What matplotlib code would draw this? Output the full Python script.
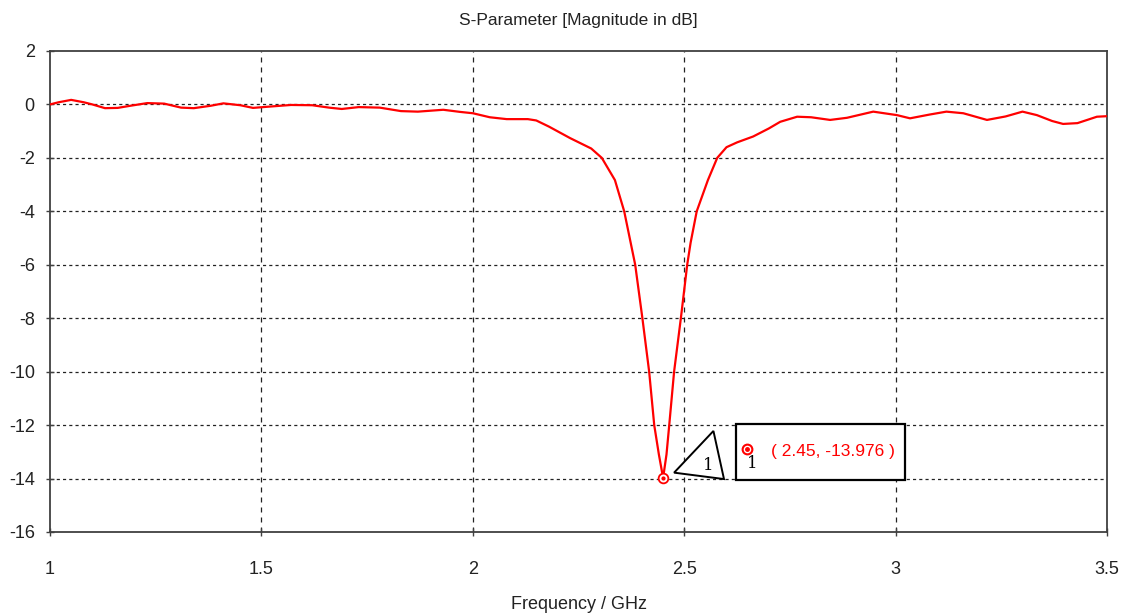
import numpy as np
import matplotlib.pyplot as plt
from matplotlib.patches import Polygon, Rectangle

# S11 trace (GHz, dB)
freq_ghz = [1.00, 1.02, 1.05, 1.08, 1.10, 1.13, 1.16, 1.19, 1.23, 1.27,
            1.31, 1.34, 1.38, 1.41, 1.45, 1.48, 1.52, 1.57, 1.62, 1.66,
            1.69, 1.73, 1.78, 1.83, 1.87, 1.93, 1.97, 2.00, 2.04, 2.08,
            2.13, 2.15, 2.18, 2.23, 2.28, 2.305, 2.336, 2.358, 2.384, 2.401,
            2.417, 2.429, 2.44, 2.45, 2.458, 2.4645, 2.476, 2.492, 2.507, 2.515,
            2.5295, 2.556, 2.578, 2.60, 2.625, 2.663, 2.70, 2.727, 2.767, 2.80,
            2.845, 2.885, 2.947, 3.003, 3.034, 3.08, 3.12, 3.16, 3.216, 3.26,
            3.30, 3.334, 3.37, 3.396, 3.43, 3.476, 3.50]
s11_db = [0.0, 0.08, 0.17, 0.08, 0.0, -0.14, -0.13, -0.05, 0.05, 0.03,
          -0.12, -0.14, -0.05, 0.04, -0.03, -0.13, -0.08, -0.02, -0.03, -0.12,
          -0.17, -0.1, -0.12, -0.25, -0.27, -0.2, -0.28, -0.33, -0.48, -0.55,
          -0.55, -0.6, -0.83, -1.26, -1.65, -2.0, -2.83, -4.0, -6.0, -8.0,
          -10.0, -12.0, -13.1, -13.976, -13.1, -12.0, -10.0, -8.0, -6.0, -5.18,
          -4.0, -2.83, -2.0, -1.6, -1.42, -1.2, -0.9, -0.65, -0.46, -0.48,
          -0.58, -0.5, -0.27, -0.4, -0.52, -0.38, -0.27, -0.33, -0.58, -0.45,
          -0.27, -0.4, -0.62, -0.73, -0.7, -0.46, -0.44]

marker_f = 2.45
marker_db = -13.976

x_ticks = [1, 1.5, 2, 2.5, 3, 3.5]
x_tick_labels = ['1', '1.5', '2', '2.5', '3', '3.5']
y_ticks = list(range(2, -17, -2))

plt.rcParams['font.family'] = ['Liberation Sans', 'DejaVu Sans']
plt.rcParams['axes.unicode_minus'] = False

fig = plt.figure(figsize=(11.27, 6.15), dpi=100)
ax = fig.add_axes([0.0444, 0.135, 0.9379, 0.7821])

ax.plot(freq_ghz, s11_db, color='#ff0000', linewidth=1.6, zorder=3)

# marker 1
ax.plot([marker_f], [marker_db], marker='o', markersize=7, markerfacecolor='white',
        markeredgecolor='#ff0000', markeredgewidth=1.3, zorder=5)
ax.plot([marker_f], [marker_db], marker='o', markersize=2, color='#ff0000', zorder=6)

# triangle label next to the marker
tri = Polygon([[2.476, -13.78], [2.569, -12.22], [2.594, -14.02]], closed=True,
              facecolor='white', edgecolor='black', linewidth=1.4, zorder=6)
ax.add_patch(tri)
ax.text(2.556, -13.5, '1', fontsize=12, ha='center', va='center', zorder=7,
        family=['DejaVu Serif'])

# readout box
box = Rectangle((2.6225, -14.06), 0.399, 2.09, facecolor='white',
                edgecolor='black', linewidth=1.6, zorder=6)
ax.add_patch(box)
ax.plot([2.648], [-12.91], marker='o', markersize=7, markerfacecolor='white',
        markeredgecolor='#ff0000', markeredgewidth=1.5, zorder=7)
ax.plot([2.648], [-12.91], marker='o', markersize=2.5, color='#ff0000', zorder=8)
ax.text(2.662, -13.45, '1', fontsize=12, ha='center', va='center', zorder=7,
        family=['DejaVu Serif'])
ax.text(2.705, -12.99, f'( {marker_f:.2f}, {marker_db:.3f} )', fontsize=12.5,
        color='#ff0000', ha='left', va='center', zorder=7)

ax.set_xlim(1, 3.5)
ax.set_ylim(-16, 2)
ax.set_xticks(x_ticks)
ax.set_xticklabels(x_tick_labels)
ax.set_yticks(y_ticks)

# grid: dashed verticals, dotted horizontals
for xv in x_ticks[1:-1]:
    ax.axvline(xv, color='#222222', linewidth=0.9, linestyle=(0, (4, 4)), zorder=1)
for yv in y_ticks[1:-1]:
    ax.axhline(yv, color='#222222', linewidth=0.9, linestyle=(0, (2.5, 2.5)), zorder=1)

for sp in ax.spines.values():
    sp.set_color('#404040')
    sp.set_linewidth(1.3)

ax.tick_params(axis='both', direction='inout', length=6, width=1, color='#404040',
               labelsize=13, labelcolor='#222222')
ax.tick_params(axis='x', pad=18)
ax.tick_params(axis='y', pad=8)

ax.set_title('S-Parameter [Magnitude in dB]', fontsize=12.5, color='#222222', pad=19)
ax.set_xlabel('Frequency / GHz', fontsize=13, color='#222222', labelpad=13)

fig.savefig('out.png', dpi=100, facecolor='white')
